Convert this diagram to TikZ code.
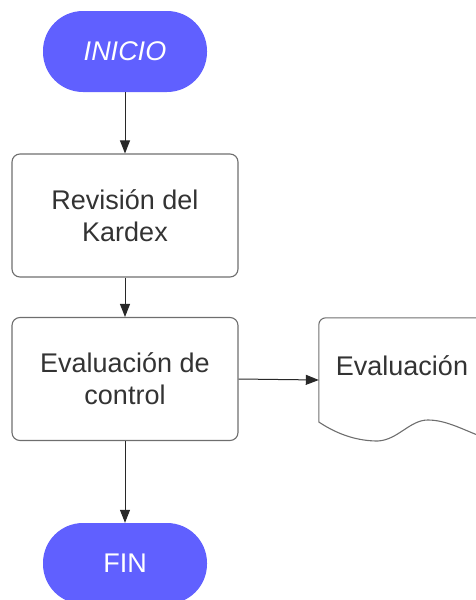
\documentclass[tikz,border=0pt]{standalone}
\usepackage{fontspec}
\setmainfont{Liberation Sans}
\usetikzlibrary{arrows.meta}
\definecolor{pillblue}{RGB}{96,96,255}
\definecolor{txtgray}{RGB}{51,51,51}
\definecolor{bordergray}{RGB}{110,110,110}
\definecolor{linegray}{RGB}{40,40,40}
\tikzset{
  pill/.style={rectangle, rounded corners=40pt, fill=pillblue, draw=none,
    minimum width=164pt, minimum height=81pt, inner sep=0pt,
    text=white, font=\fontsize{27}{32}\selectfont},
  procbox/.style={rectangle, rounded corners=8pt, draw=bordergray, line width=1.1pt,
    minimum width=226pt, minimum height=123pt, inner sep=0pt, align=center,
    text=txtgray, font=\fontsize{27}{32}\selectfont},
  conn/.style={draw=linegray, line width=1pt, -{Triangle[length=13pt,width=10pt]}},
  doctext/.style={text=txtgray, font=\fontsize{27}{32}\selectfont, inner sep=0pt}
}
\begin{document}
\begin{tikzpicture}[x=1pt,y=-1pt]
\useasboundingbox (0,0) rectangle (476,600);
\node[pill] (inicio) at (125,51.5) {\itshape INICIO};
\node[procbox] (kardex) at (125,215.5) {Revisión del\\Kardex};
\node[procbox] (eval) at (125,379) {Evaluación de\\control};
\node[pill] (fin) at (125,563.5) {FIN};
\node[rectangle, minimum width=171pt, minimum height=124pt, inner sep=0pt] (doc) at (404.5,380) {};
\node[doctext] (doclabel) at (402,366) {Evaluación};
\draw[bordergray, line width=1.1pt]
  (doc.west) -- ([yshift=-42pt]doc.west)
  .. controls +(21,14) and +(-18,0) .. ++(59,19)
  .. controls +(20,-1) and +(-18,0) .. ++(50,-21)
  .. controls +(17,0) and +(-20,-8) .. ++(52,16);
\draw[bordergray, line width=1.1pt, rounded corners=7pt]
  (doc.west) -- (doc.north west) -- (doc.north east);
\draw[conn] (inicio) -- (kardex);
\draw[conn] (kardex) -- (eval);
\draw[conn] (eval) -- (fin);
\draw[conn] (eval.east) -- (doc.west);
\end{tikzpicture}
\end{document}
